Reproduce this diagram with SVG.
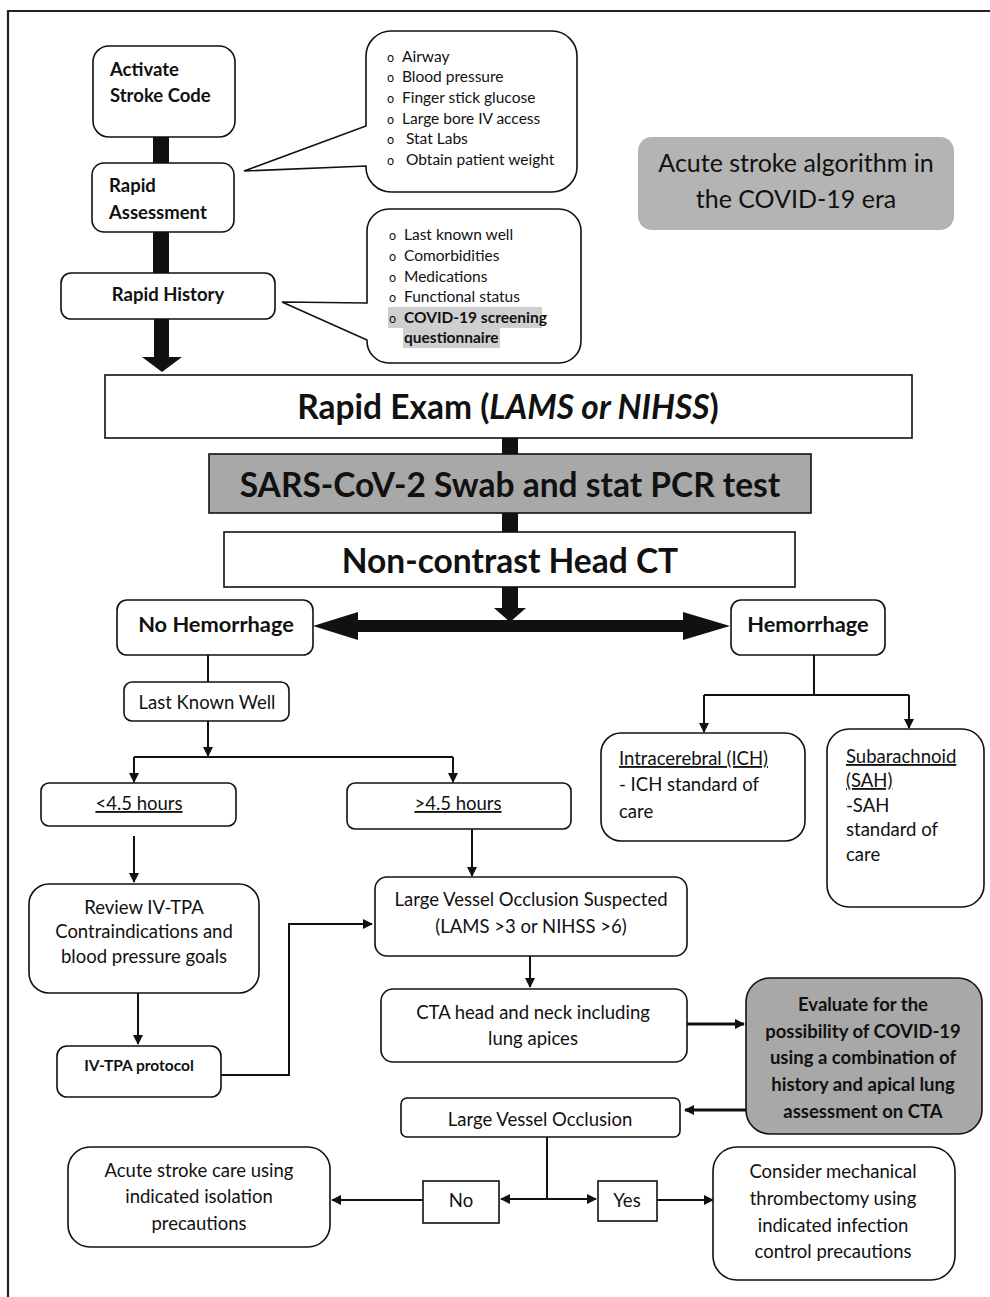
<svg xmlns="http://www.w3.org/2000/svg" width="990" height="1297" viewBox="0 0 990 1297">
<defs>
<style>
text{font-family:Lato,"Open Sans","Liberation Sans",sans-serif;fill:#111}
.box{fill:#fff;stroke:#111;stroke-width:1.6}
.gray{fill:#a8a8a8;stroke:#111;stroke-width:1.6}
.t17{font-size:18.5px}
.b17{font-size:18.5px;font-weight:bold}
.c15{font-size:15.5px}
.big{font-size:33.5px;font-weight:bold}
.hem{font-size:21.8px;font-weight:bold}
.mid{text-anchor:middle}
.ln{fill:none;stroke:#111;stroke-width:2}
.thick{fill:none;stroke:#111;stroke-width:3}
.fill{fill:#111;stroke:none}
</style>
<marker id="ah" markerWidth="10" markerHeight="10" refX="9" refY="5" orient="auto" markerUnits="userSpaceOnUse">
<path d="M0,0 L10,5 L0,10 Z" fill="#111"/>
</marker>
</defs>
<rect x="0" y="0" width="990" height="1297" fill="#fff"/>
<path d="M8,1297 V11 H990" fill="none" stroke="#222" stroke-width="2.2"/>

<g id="connectors">
<rect class="fill" x="153" y="136" width="16" height="28"/>
<rect class="fill" x="153" y="231" width="16" height="43"/>
<rect class="fill" x="154" y="319" width="15" height="39"/>
<polygon class="fill" points="142,357 182,357 162,372"/>
<rect class="fill" x="502" y="437" width="16" height="18"/>
<rect class="fill" x="502" y="512" width="16" height="21"/>
<rect class="fill" x="502" y="586" width="16" height="28"/>
<polygon class="fill" points="494,608 526,608 510,622"/>
<polygon class="fill" points="313,626 358,612 358,620 683,620 683,612 730,626 683,640 683,632 358,632 358,640"/>
<path class="ln" d="M208,655 V682"/>
<path class="ln" d="M208,721 V756" marker-end="url(#ah)"/>
<path class="ln" d="M134,757 H453"/>
<path class="ln" d="M134,757 V782" marker-end="url(#ah)"/>
<path class="ln" d="M453,757 V782" marker-end="url(#ah)"/>
<path class="ln" d="M134,836 V882" marker-end="url(#ah)"/>
<path class="ln" d="M138,993 V1044" marker-end="url(#ah)"/>
<path class="ln" d="M221,1075 H289 V924 H372" marker-end="url(#ah)"/>
<path class="ln" d="M472,829 V876" marker-end="url(#ah)"/>
<path class="ln" d="M530,956 V987" marker-end="url(#ah)"/>
<path class="thick" d="M687,1024 H744" marker-end="url(#ah)"/>
<path class="thick" d="M746,1110 H685" marker-end="url(#ah)"/>
<path class="ln" d="M814,655 V695"/>
<path class="ln" d="M704,695 H909"/>
<path class="ln" d="M704,695 V732" marker-end="url(#ah)"/>
<path class="ln" d="M909,695 V728" marker-end="url(#ah)"/>
<path class="ln" d="M547,1137 V1199"/>
<path class="ln" d="M547,1199 H501" marker-end="url(#ah)"/>
<path class="ln" d="M547,1199 H596" marker-end="url(#ah)"/>
<path class="ln" d="M423,1200 H332" marker-end="url(#ah)"/>
<path class="ln" d="M657,1200 H713" marker-end="url(#ah)"/>
</g>

<g id="activate">
<rect class="box" x="93" y="46" width="142" height="91" rx="16"/>
<text class="b17" x="110" y="76">Activate</text>
<text class="b17" x="110" y="102">Stroke Code</text>
</g>
<g id="rapid-assessment">
<rect class="box" x="92" y="163" width="142" height="69" rx="12"/>
<text class="b17" x="109" y="192">Rapid</text>
<text class="b17" x="109" y="219">Assessment</text>
</g>
<g id="rapid-history">
<rect class="box" x="61" y="273" width="214" height="46" rx="10"/>
<text class="b17 mid" x="168" y="301">Rapid History</text>
</g>
<g id="callout-assessment">
<path class="box" d="M391,31 H552 A25,25 0 0 1 577,56 V167 A25,25 0 0 1 552,192 H391 A25,25 0 0 1 366,167 V166 L244,171 L366,126 V56 A25,25 0 0 1 391,31 Z"/>
<text class="c15"><tspan x="387" y="62" font-size="12.5">o</tspan><tspan x="402" y="62">Airway</tspan></text>
<text class="c15"><tspan x="387" y="82" font-size="12.5">o</tspan><tspan x="402" y="82">Blood pressure</tspan></text>
<text class="c15"><tspan x="387" y="103" font-size="12.5">o</tspan><tspan x="402" y="103">Finger stick glucose</tspan></text>
<text class="c15"><tspan x="387" y="124" font-size="12.5">o</tspan><tspan x="402" y="124">Large bore IV access</tspan></text>
<text class="c15"><tspan x="387" y="144" font-size="12.5">o</tspan><tspan x="406" y="144">Stat Labs</tspan></text>
<text class="c15"><tspan x="387" y="165" font-size="12.5">o</tspan><tspan x="406" y="165">Obtain patient weight</tspan></text>
</g>
<g id="callout-history">
<path class="box" d="M389,209 H559 A22,22 0 0 1 581,231 V341 A22,22 0 0 1 559,363 H389 A22,22 0 0 1 367,341 V340 L282,302 L367,303 V231 A22,22 0 0 1 389,209 Z"/>
<rect x="388" y="307" width="154" height="21" fill="#cfcfcf"/>
<rect x="403" y="328" width="97" height="20" fill="#cfcfcf"/>
<text class="c15"><tspan x="389" y="240" font-size="12.5">o</tspan><tspan x="404" y="240">Last known well</tspan></text>
<text class="c15"><tspan x="389" y="261" font-size="12.5">o</tspan><tspan x="404" y="261">Comorbidities</tspan></text>
<text class="c15"><tspan x="389" y="282" font-size="12.5">o</tspan><tspan x="404" y="282">Medications</tspan></text>
<text class="c15"><tspan x="389" y="302" font-size="12.5">o</tspan><tspan x="404" y="302">Functional status</tspan></text>
<text class="c15" font-weight="bold"><tspan x="389" y="323" font-size="12.5" font-weight="normal">o</tspan><tspan x="404" y="323">COVID-19 screening</tspan></text>
<text class="c15" font-weight="bold" x="404" y="343">questionnaire</text>
</g>
<g id="title">
<rect x="638" y="137" width="316" height="93" rx="14" fill="#b4b4b4"/>
<text class="mid" x="796" y="172" font-size="25">Acute stroke algorithm in</text>
<text class="mid" x="796" y="208" font-size="25">the COVID-19 era</text>
</g>
<g id="rapid-exam">
<rect class="box" x="105" y="375" width="807" height="63"/>
<text class="big mid" x="508" y="419">Rapid Exam (<tspan font-style="italic">LAMS or NIHSS</tspan>)</text>
</g>
<g id="sars">
<rect class="gray" x="209" y="454" width="602" height="59"/>
<text class="big mid" x="510" y="497">SARS-CoV-2 Swab and stat PCR test</text>
</g>
<g id="head-ct">
<rect class="box" x="224" y="532" width="571" height="55"/>
<text class="big mid" x="510" y="573">Non-contrast Head CT</text>
</g>
<g id="no-hemorrhage">
<rect class="box" x="117" y="600" width="196" height="55" rx="10"/>
<text class="hem mid" x="216" y="632">No Hemorrhage</text>
</g>
<g id="hemorrhage">
<rect class="box" x="731" y="600" width="154" height="55" rx="10"/>
<text class="hem mid" x="808" y="632">Hemorrhage</text>
</g>
<g id="last-known-well">
<rect class="box" x="124" y="682" width="165" height="39" rx="8"/>
<text class="t17 mid" x="207" y="709">Last Known Well</text>
</g>
<g id="lt45">
<rect class="box" x="41" y="783" width="195" height="43" rx="8"/>
<text class="t17 mid" x="139" y="810" text-decoration="underline">&lt;4.5 hours</text>
</g>
<g id="gt45">
<rect class="box" x="347" y="783" width="224" height="46" rx="8"/>
<text class="t17 mid" x="458" y="810" text-decoration="underline">&gt;4.5 hours</text>
</g>
<g id="ich">
<rect class="box" x="601" y="733" width="204" height="108" rx="20"/>
<text class="t17" x="619" y="765" text-decoration="underline">Intracerebral (ICH)</text>
<text class="t17" x="619" y="791">- ICH standard of</text>
<text class="t17" x="619" y="818">care</text>
</g>
<g id="sah">
<rect class="box" x="827" y="729" width="157" height="178" rx="22"/>
<text class="t17" x="846" y="763" text-decoration="underline">Subarachnoid</text>
<text class="t17" x="846" y="787" text-decoration="underline">(SAH)</text>
<text class="t17" x="846" y="812">-SAH</text>
<text class="t17" x="846" y="836">standard of</text>
<text class="t17" x="846" y="861">care</text>
</g>
<g id="review">
<rect class="box" x="29" y="884" width="230" height="109" rx="20"/>
<text class="t17 mid" x="144" y="914">Review IV-TPA</text>
<text class="t17 mid" x="144" y="938">Contraindications and</text>
<text class="t17 mid" x="144" y="963">blood pressure goals</text>
</g>
<g id="iv-tpa">
<rect class="box" x="57" y="1046" width="164" height="51" rx="10"/>
<text class="mid" x="139" y="1071" font-size="15.5" font-weight="bold">IV-TPA protocol</text>
</g>
<g id="lvo-suspected">
<rect class="box" x="375" y="877" width="312" height="79" rx="12"/>
<text class="t17 mid" x="531" y="906">Large Vessel Occlusion Suspected</text>
<text class="t17 mid" x="531" y="933">(LAMS &gt;3 or NIHSS &gt;6)</text>
</g>
<g id="cta">
<rect class="box" x="381" y="989" width="306" height="73" rx="12"/>
<text class="t17 mid" x="533" y="1019">CTA head and neck including</text>
<text class="t17 mid" x="533" y="1045">lung apices</text>
</g>
<g id="evaluate">
<rect class="gray" x="746" y="978" width="236" height="156" rx="24"/>
<text class="b17 mid" x="863" y="1011">Evaluate for the</text>
<text class="b17 mid" x="863" y="1038">possibility of COVID-19</text>
<text class="b17 mid" x="863" y="1064">using a combination of</text>
<text class="b17 mid" x="863" y="1091">history and apical lung</text>
<text class="b17 mid" x="863" y="1118">assessment on CTA</text>
</g>
<g id="lvo">
<rect class="box" x="401" y="1098" width="279" height="39" rx="6"/>
<text class="t17 mid" x="540" y="1126">Large Vessel Occlusion</text>
</g>
<g id="no">
<rect class="box" x="423" y="1181" width="76" height="42"/>
<text class="t17 mid" x="461" y="1207">No</text>
</g>
<g id="yes">
<rect class="box" x="598" y="1181" width="59" height="40"/>
<text class="t17 mid" x="627" y="1207">Yes</text>
</g>
<g id="acute-care">
<rect class="box" x="68" y="1147" width="262" height="100" rx="22"/>
<text class="t17 mid" x="199" y="1177">Acute stroke care using</text>
<text class="t17 mid" x="199" y="1203">indicated isolation</text>
<text class="t17 mid" x="199" y="1230">precautions</text>
</g>
<g id="thrombectomy">
<rect class="box" x="713" y="1147" width="242" height="133" rx="24"/>
<text class="t17 mid" x="833" y="1178">Consider mechanical</text>
<text class="t17 mid" x="833" y="1205">thrombectomy using</text>
<text class="t17 mid" x="833" y="1232">indicated infection</text>
<text class="t17 mid" x="833" y="1258">control precautions</text>
</g>
</svg>
